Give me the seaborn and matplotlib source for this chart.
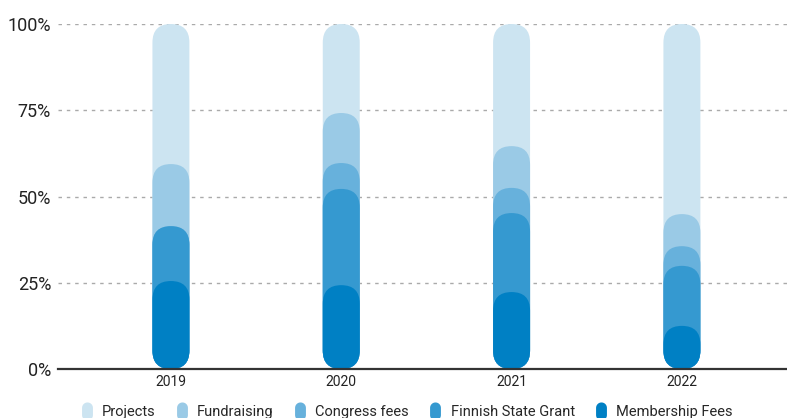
import matplotlib
matplotlib.use("Agg")
import numpy as np
import pandas as pd
import matplotlib.pyplot as plt
import seaborn as sns
from matplotlib.patches import FancyBboxPatch
from matplotlib.lines import Line2D
from matplotlib.path import Path

# data (percent share of income per year)
years = ["2019", "2020", "2021", "2022"]
membership = [25.5, 24.3, 22.3, 12.5]
state_grant = [15.9, 27.9, 22.9, 17.4]
congress = [0.0, 7.5, 7.3, 5.7]
fundraising = [18.0, 14.5, 12.1, 9.3]
projects = [40.6, 25.8, 35.4, 55.1]

sources = ["Projects", "Fundraising", "Congress fees", "Finnish State Grant", "Membership Fees"]
colors = ["#cce4f1", "#9acae6", "#67b1dc", "#3599d0", "#0080c4"]

# stack bottom -> top, then draw tallest first
stack = np.cumsum([membership, state_grant, congress, fundraising, projects], axis=0)
tops = {"Membership Fees": stack[0], "Finnish State Grant": stack[1],
        "Congress fees": stack[2], "Fundraising": stack[3], "Projects": stack[4]}
rows = []
for s in sources:
    for y, v in zip(years, tops[s]):
        rows.append({"year": y, "source": s, "top": v})
df = pd.DataFrame(rows)

sns.set_theme(style="white")
plt.rcParams["font.family"] = ["Roboto", "DejaVu Sans"]

fig = plt.figure(figsize=(7.87, 4.18), dpi=100)
ax = fig.add_axes([58 / 787, 49 / 418, 729 / 787, 345 / 418])

bar_w = 0.217
sns.barplot(data=df, x="year", y="top", hue="source", hue_order=sources,
            palette=colors, dodge=False, width=bar_w, legend=False, ax=ax,
            saturation=1)

ax.set_xlim(-0.663, 3.617)
ax.set_ylim(0, 100)

# turn rectangles into pills
px_x = ax.transData.transform((1, 0))[0] - ax.transData.transform((0, 0))[0]
px_y = ax.transData.transform((0, 1))[1] - ax.transData.transform((0, 0))[1]
aspect = px_x / px_y
rect = list(ax.patches)
for i, p in enumerate(rect):
    x, w, h = p.get_x(), p.get_width(), p.get_height()
    pill = FancyBboxPatch((x, 0), w, h,
                          boxstyle=f"round,pad=0,rounding_size={w / 2}",
                          mutation_aspect=aspect, facecolor=p.get_facecolor(),
                          edgecolor="none", zorder=3 + i * 0.01)
    p.remove()
    ax.add_patch(pill)

ax.set_yticks([0, 25, 50, 75, 100])
ax.set_yticklabels(["0%", "25%", "50%", "75%", "100%"], fontsize=13, color="#222222")
ax.tick_params(axis="x", labelsize=10, colors="#222222", pad=4, length=0)
ax.tick_params(axis="y", pad=5, length=0)
ax.set_xlabel("")
ax.set_ylabel("")
ax.yaxis.grid(True, color="#aaaaaa", linewidth=1, linestyle=(0, (2.5, 3.5)))
ax.set_axisbelow(True)
for s in ["top", "right", "left"]:
    ax.spines[s].set_visible(False)
ax.spines["bottom"].set_color("#333333")
ax.spines["bottom"].set_linewidth(1.6)
ax.spines["bottom"].set_zorder(10)

# legend with tall pill markers
t = np.linspace(0, np.pi, 20)
top_arc = np.column_stack([0.3 * np.cos(t), 0.2 + 0.3 * np.sin(t)])
bot_arc = np.column_stack([-0.3 * np.cos(t), -0.2 - 0.3 * np.sin(t)])
pill_marker = Path(np.vstack([top_arc, bot_arc, top_arc[:1]]))
handles = [Line2D([0], [0], linestyle="none", marker=pill_marker, markersize=13,
                  markerfacecolor=c, markeredgecolor="none") for c in colors]
fig.legend(handles, sources, loc="center", bbox_to_anchor=(0.516, 0.014), ncol=5,
           frameon=False, fontsize=10.5, handletextpad=0.55, columnspacing=1.3,
           handlelength=1.0)

fig.savefig("out.png", dpi=100)
